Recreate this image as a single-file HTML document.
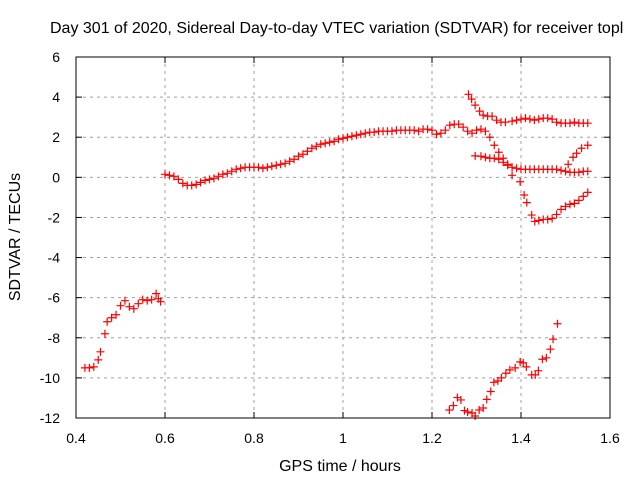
<!DOCTYPE html>
<html><head><meta charset="utf-8">
<style>
html,body{margin:0;padding:0;background:#fff;overflow:hidden;}
svg{display:block;font-family:"Liberation Sans",sans-serif;}
</style></head>
<body>
<svg id="chart" width="640" height="480" viewBox="0 0 640 480" xmlns="http://www.w3.org/2000/svg">
  <rect x="0" y="0" width="640" height="480" fill="#fff"/>
  <g id="grid"></g>
  <g id="ticks"></g>
  <g id="marks"></g>
  <rect x="76" y="57" width="534" height="361" fill="none" stroke="#000" stroke-width="1"/>
  <text x="50" y="33" font-size="16" fill="#000">Day 301 of 2020, Sidereal Day-to-day VTEC variation (SDTVAR) for receiver topl</text>
  <text x="340" y="471" font-size="16" text-anchor="middle">GPS time / hours</text>
  <text transform="translate(20,237) rotate(-90)" font-size="16" text-anchor="middle">SDTVAR / TECUs</text>
</svg>
<script>
const xTicks = [0.4, 0.6, 0.8, 1, 1.2, 1.4, 1.6];
const xTickLabels = ["0.4", "0.6", "0.8", "1", "1.2", "1.4", "1.6"];
const yTicks = [-12, -10, -8, -6, -4, -2, 0, 2, 4, 6];
const yTickLabels = ["-12", "-10", "-8", "-6", "-4", "-2", "0", "2", "4", "6"];

const seriesAx = [0.42,0.43,0.44,0.45,0.455,0.465,0.47,0.48,0.49,0.50,0.51,0.52,0.53,0.54,0.55,0.56,0.57,0.58,0.585,0.59];
const seriesAy = [-9.5,-9.5,-9.45,-9.1,-8.7,-7.8,-7.2,-7.0,-6.85,-6.4,-6.15,-6.45,-6.55,-6.3,-6.1,-6.15,-6.1,-5.8,-6.05,-6.2];

const seriesBx = [0.60,0.61,0.62,0.63,0.64,0.65,0.66,0.67,0.68,0.69,0.70,0.71,0.72,0.73,0.74,0.75,0.76,0.77,0.78,0.79,0.80,0.81,0.82,0.83,0.84,0.85,0.86,0.87,0.88,0.89,0.90,0.91,0.92,0.93,0.94,0.95,0.96,0.97,0.98,0.99,1.00,1.01,1.02,1.03,1.04,1.05,1.06,1.07,1.08,1.09,1.10,1.11,1.12,1.13,1.14,1.15,1.16,1.17,1.18,1.19,1.20,1.21,1.22,1.23,1.24,1.25,1.26,1.27,1.28,1.29,1.30,1.31,1.32,1.33,1.34,1.35,1.36,1.37,1.38,1.398,1.407,1.413,1.424,1.431,1.44,1.45,1.46,1.47,1.48,1.49,1.50,1.51,1.52,1.53,1.54,1.55];
const seriesBy = [0.15,0.1,0.05,-0.1,-0.3,-0.4,-0.4,-0.35,-0.25,-0.15,-0.1,-0.05,0.05,0.15,0.2,0.3,0.4,0.45,0.5,0.5,0.5,0.5,0.45,0.5,0.55,0.6,0.65,0.7,0.8,0.9,1.05,1.15,1.3,1.45,1.55,1.65,1.7,1.75,1.8,1.9,1.95,2.0,2.05,2.1,2.15,2.2,2.25,2.25,2.3,2.3,2.3,2.3,2.35,2.35,2.35,2.35,2.35,2.3,2.4,2.4,2.35,2.15,2.2,2.35,2.6,2.65,2.65,2.5,2.3,2.2,2.35,2.4,2.3,2.0,1.6,1.25,0.95,0.65,0.1,-0.22,-0.88,-1.26,-1.88,-2.2,-2.15,-2.1,-2.1,-2.05,-1.85,-1.6,-1.45,-1.35,-1.3,-1.15,-0.95,-0.75];

const seriesCx = [1.282,1.289,1.297,1.307,1.315,1.325,1.335,1.345,1.355,1.365,1.38,1.39,1.40,1.41,1.42,1.43,1.44,1.45,1.46,1.47,1.48,1.49,1.50,1.51,1.52,1.53,1.54,1.55];
const seriesCy = [4.14,3.9,3.6,3.3,3.1,3.05,3.05,2.85,2.75,2.75,2.8,2.85,2.9,2.95,2.9,2.85,2.9,2.95,2.95,2.9,2.75,2.7,2.7,2.7,2.75,2.7,2.7,2.7];

const seriesDx = [1.297,1.31,1.32,1.33,1.34,1.35,1.36,1.37,1.38,1.39,1.40,1.41,1.42,1.43,1.44,1.45,1.46,1.47,1.48,1.49,1.50,1.51,1.52,1.53,1.54,1.55];
const seriesDy = [1.07,1.05,1.0,0.95,0.95,0.9,0.75,0.6,0.5,0.45,0.4,0.4,0.4,0.4,0.4,0.4,0.4,0.4,0.4,0.35,0.3,0.25,0.25,0.25,0.3,0.3];

const seriesEx = [1.506,1.517,1.525,1.536,1.55];
const seriesEy = [0.65,1.0,1.2,1.45,1.6];

const seriesFx = [1.239,1.248,1.257,1.265,1.273,1.28,1.29,1.297,1.306,1.315,1.323,1.332,1.339,1.348,1.356,1.366,1.375,1.387,1.398,1.405,1.412,1.424,1.432,1.439,1.448,1.457,1.466,1.472,1.482];
const seriesFy = [-11.6,-11.38,-10.98,-11.1,-11.63,-11.7,-11.75,-11.9,-11.6,-11.5,-11.07,-10.68,-10.22,-10.15,-10.0,-9.77,-9.6,-9.5,-9.2,-9.25,-9.45,-9.85,-9.85,-9.64,-9.07,-9.0,-8.57,-8.07,-7.3];

const X0 = 76, X1 = 610, Y0 = 418, Y1 = 57;
function sx(v){ return X0 + (v - 0.4) / 1.2 * (X1 - X0); }
function sy(v){ return Y0 - (v + 12) / 18 * (Y0 - Y1); }
const NS = "http://www.w3.org/2000/svg";
const grid = document.getElementById('grid');
const ticks = document.getElementById('ticks');
const marks = document.getElementById('marks');
function mk(tag, attrs, parent){
  const e = document.createElementNS(NS, tag);
  for (const k in attrs) e.setAttribute(k, attrs[k]);
  parent.appendChild(e);
  return e;
}
xTicks.forEach((v, i) => {
  const x = sx(v);
  if (i > 0 && i < xTicks.length - 1) {
    const g = mk('line', {x1:x, x2:x, y1:Y1, y2:Y0, stroke:'#a0a0a0', 'stroke-width':1, 'stroke-dasharray':'3,4'}, grid);
    
    
  }
  const t1 = mk('line', {x1:x, x2:x, y1:Y0, y2:Y0-6, stroke:'#000'}, ticks);
  
  
  const t2 = mk('line', {x1:x, x2:x, y1:Y1, y2:Y1+6, stroke:'#000'}, ticks);
  
  
  const lab = mk('text', {x:x, y:443, 'font-size':14, 'text-anchor':'middle'}, ticks);
  lab.textContent = xTickLabels[i];
  
  
});
yTicks.forEach((v, i) => {
  const y = sy(v);
  if (i > 0 && i < yTicks.length - 1) {
    const g = mk('line', {x1:X0, x2:X1, y1:y, y2:y, stroke:'#a0a0a0', 'stroke-width':1, 'stroke-dasharray':'3,4'}, grid);
    
    
  }
  const t1 = mk('line', {x1:X0, x2:X0+6, y1:y, y2:y, stroke:'#000'}, ticks);
  
  
  const t2 = mk('line', {x1:X1, x2:X1-6, y1:y, y2:y, stroke:'#000'}, ticks);
  
  
  const lab = mk('text', {x:X0-16, y:y+5, 'font-size':14, 'text-anchor':'end'}, ticks);
  lab.textContent = yTickLabels[i];
  
  
});
function plotSeries(xs, ys, name){
  for (let i = 0; i < xs.length; i++) {
    const cx = sx(xs[i]), cy = sy(ys[i]);
    const p = mk('path', {d:`M${cx-4},${cy}H${cx+4}M${cx},${cy-4}V${cy+4}`, stroke:'#ff0000', 'stroke-width':1.2, fill:'none'}, marks);
    
    
  }
}
plotSeries(seriesAx, seriesAy, 'series-a');
plotSeries(seriesBx, seriesBy, 'series-b');
plotSeries(seriesCx, seriesCy, 'series-c');
plotSeries(seriesDx, seriesDy, 'series-d');
plotSeries(seriesEx, seriesEy, 'series-e');
plotSeries(seriesFx, seriesFy, 'series-f');
</script>
</body></html>
